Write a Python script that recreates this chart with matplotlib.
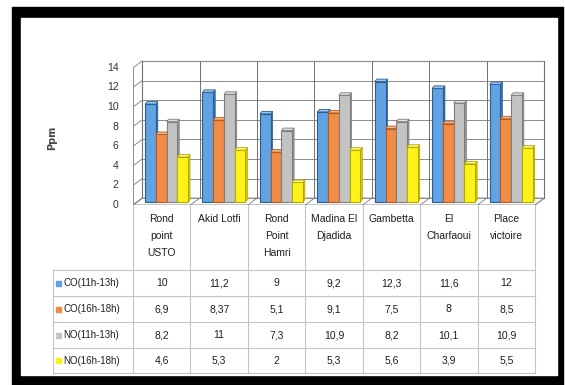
import matplotlib
matplotlib.use("Agg")
import matplotlib.pyplot as plt
from matplotlib.patches import Rectangle, Polygon

# ---- data -------------------------------------------------------------
sites = ["Rond\npoint\nUSTO", "Akid Lotfi", "Rond\nPoint\nHamri",
         "Madina El\nDjadida", "Gambetta", "El\nCharfaoui", "Place\nvictoire"]
series_names = ["CO(11h-13h)", "CO(16h-18h)", "NO(11h-13h)", "NO(16h-18h)"]
co_midday = [10, 11.2, 9, 9.2, 12.3, 11.6, 12]
co_evening = [6.9, 8.37, 5.1, 9.1, 7.5, 8, 8.5]
no_midday = [8.2, 11, 7.3, 10.9, 8.2, 10.1, 10.9]
no_evening = [4.6, 5.3, 2, 5.3, 5.6, 3.9, 5.5]
y_ticks = [0, 2, 4, 6, 8, 10, 12, 14]
y_label = "Ppm"

series = [co_midday, co_evening, no_midday, no_evening]
face_colors = ["#62A2E2", "#F08C45", "#C3C3C3", "#FFF21A"]
edge_colors = ["#2B5C8E", "#B35A1E", "#7C7C7C", "#B5A800"]
top_colors = ["#9CC6F0", "#F8B789", "#DEDEDE", "#FFF88A"]
side_colors = ["#3D78B4", "#C96A2A", "#989898", "#D6C800"]

FONT = ["Liberation Sans Narrow", "Liberation Sans", "DejaVu Sans"]
TXT = "#1E1E1E"


def fmt(v):
    return f"{v:g}".replace(".", ",")


W, H = 565, 385
fig = plt.figure(figsize=(W / 100, H / 100), dpi=100)

# ---- background layer: frame, data table, axis title --------------------
bg = fig.add_axes([0, 0, 1, 1])
bg.set_xlim(0, W)
bg.set_ylim(H, 0)
bg.axis("off")
bg.add_patch(Rectangle((12, 7), 551, 378, color="black", zorder=0))
bg.add_patch(Rectangle((21, 18), 536, 357, color="white", zorder=1))

# chart geometry (pixels)
x_left, col_w = 133.0, 57.43
floor_front = 205.0
n = len(sites)
col_edges = [x_left + i * col_w for i in range(n + 1)]

row_lines = [270, 296, 322, 348, 373]
label_left = 53
grid_c = "#C4C4C4"
for x in col_edges:
    bg.plot([x, x], [floor_front, row_lines[-1]], color=grid_c, lw=0.8, zorder=2)
for y in row_lines:
    bg.plot([label_left, col_edges[-1]], [y, y], color=grid_c, lw=0.8, zorder=2)
bg.plot([label_left, label_left], [row_lines[0], row_lines[-1]],
        color=grid_c, lw=0.8, zorder=2)

for i, name in enumerate(sites):
    cx = (col_edges[i] + col_edges[i + 1]) / 2
    bg.text(cx, 214, name, ha="center", va="top", fontsize=7.5,
            family=FONT, linespacing=1.9, color=TXT, zorder=3)

for r, (name, vals) in enumerate(zip(series_names, series)):
    cy = (row_lines[r] + row_lines[r + 1]) / 2
    bg.add_patch(Rectangle((56, cy - 2.5), 5, 5, color=face_colors[r], zorder=3))
    bg.text(63, cy, name, ha="left", va="center", fontsize=7, family=FONT,
            color=TXT, zorder=3)
    for i, v in enumerate(vals):
        cx = (col_edges[i] + col_edges[i + 1]) / 2
        bg.text(cx, cy, fmt(v), ha="center", va="center", fontsize=7.5,
                family=FONT, color=TXT, zorder=3)

bg.text(52, 138, y_label, rotation=90, ha="center", va="center", fontsize=7,
        fontweight="bold", color="#444444", zorder=3)

# ---- 3-D style column chart --------------------------------------------
px_per_unit = 9.8
top_px = 58
right_px = 550
ax = fig.add_axes([x_left / W, (H - floor_front) / H,
                   (right_px - x_left) / W, (floor_front - top_px) / H])
ax.set_facecolor("none")
y0 = -0.3
ax.set_xlim(0, (right_px - x_left) / col_w)
ax.set_ylim(y0, y0 + (floor_front - top_px) / px_per_unit)
ax.axis("off")

ddx, ddy = 0.16, 0.7          # depth offset of the back wall
wall_c = "#8C8C8C"
y_top = max(y_ticks)

# floor
ax.add_patch(Polygon([(0, y0), (n, y0), (n + ddx, y0 + ddy), (ddx, y0 + ddy)],
                     closed=True, fc="white", ec=wall_c, lw=0.7, zorder=1))
for i in range(n + 1):
    ax.plot([i, i + ddx], [y0, y0 + ddy], color=wall_c, lw=0.7, zorder=1)

# back wall
ax.add_patch(Rectangle((ddx, y0 + ddy), n, y_top, fc="white", ec="#707070",
                       lw=0.8, zorder=0.5))
for t in y_ticks:
    ax.plot([ddx, n + ddx], [t + y0 + ddy] * 2, color=wall_c, lw=0.7, zorder=1)
for i in range(n + 1):
    ax.plot([i + ddx, i + ddx], [y0 + ddy, y0 + ddy + y_top], color="#707070",
            lw=0.7, zorder=1)

# left side wall
ax.plot([0, 0], [y0, y0 + y_top], color=wall_c, lw=0.7, zorder=1)
for t in y_ticks:
    ax.plot([0, ddx], [t + y0, t + y0 + ddy], color=wall_c, lw=0.7, zorder=1)
    ax.text(-0.25, t + y0, str(t), ha="right", va="center", fontsize=7.5,
            family=FONT, color="#333333")

# columns
bar_w = 0.187
group_start = 0.21
bdx, bdy = 0.035, 0.25
for s, vals in enumerate(series):
    xs = [i + group_start + s * bar_w for i in range(n)]
    ax.bar(xs, vals, width=bar_w, align="edge", color=face_colors[s],
           edgecolor=edge_colors[s], linewidth=0.8, zorder=3 + s)
    for x, v in zip(xs, vals):
        ax.add_patch(Polygon([(x, v), (x + bar_w, v), (x + bar_w + bdx, v + bdy),
                              (x + bdx, v + bdy)], closed=True,
                             fc=top_colors[s], ec=edge_colors[s], lw=0.6,
                             zorder=3 + s))
        ax.add_patch(Polygon([(x + bar_w, 0), (x + bar_w + bdx, bdy),
                              (x + bar_w + bdx, v + bdy), (x + bar_w, v)],
                             closed=True, fc=side_colors[s], ec=edge_colors[s],
                             lw=0.5, zorder=2.9 + s))

fig.savefig("out.png", dpi=100)
